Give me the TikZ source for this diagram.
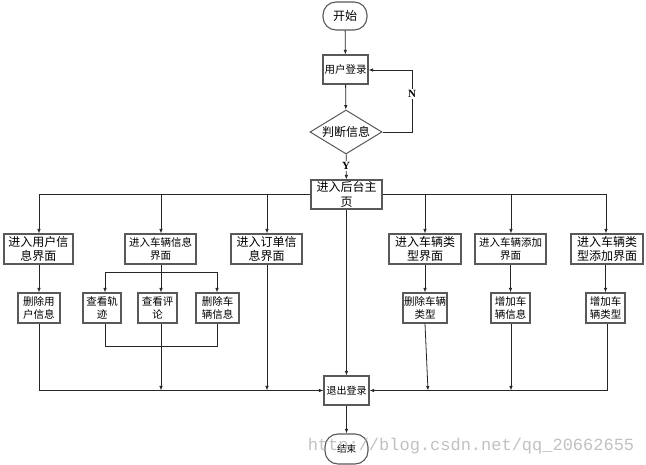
\documentclass[tikz,border=0pt]{standalone}
\usepackage{fontspec}
\setmainfont{Noto Sans CJK SC}
\newfontfamily\wmfont{Liberation Mono}
\newfontfamily\lblfont{Liberation Serif}
\usetikzlibrary{arrows.meta,shapes.geometric}
\begin{document}
\begin{tikzpicture}[x=1pt,y=-1pt,
  line/.style={draw=black!85,line width=0.8pt},
  arr/.style={line,-{Latex[length=4.5pt,width=3.5pt]}},
  box/.style={draw=black!65,line width=1.1pt,rectangle,inner sep=0pt,align=center,fill=white},
  big/.style={font=\fontsize{12}{14.5}\selectfont},
  small/.style={font=\fontsize{10.5}{13.5}\selectfont},
  term/.style={box,rounded corners=13pt},
  lbl/.style={fill=white,inner sep=1pt,font=\lblfont\fontsize{11}{12}\selectfont\bfseries}
]
\useasboundingbox (0,0) rectangle (646,465);
\fill[white] (0,0) rectangle (646,465);

% top part
\node[term,big,minimum width=44pt,minimum height=28pt] (start) at (345,16) {开始};
\node[box,small,minimum width=45pt,minimum height=29pt] (login) at (345.5,69.5) {用户登录};
\node[draw=black!65,line width=1pt,diamond,inner sep=0pt,aspect=1.64,minimum width=72pt,minimum height=44pt,big,fill=white] (judge) at (346,132) {判断信息};
\node[box,big,minimum width=71pt,minimum height=29pt] (main) at (346.5,194.5) {进入后台主\\页};

\draw[arr] (start) -- (login);
\draw[arr] (login) -- (judge);
\coordinate (n1) at (412,132);
\coordinate (n2) at (412,70);
\draw[arr] (judge.east) -- (n1) -- (n2) -- (n2 -| login.east);
\node[lbl] (nlab) at (412,94) {N};
\draw[arr] (judge) -- (main);
\node[lbl] (ylab) at (346,166) {Y};

% level 1
\node[box,big,minimum width=69pt,minimum height=30pt] (u1) at (38.5,249) {进入用户信\\息界面};
\node[box,small,minimum width=71pt,minimum height=30pt] (u2) at (160.5,249) {进入车辆信息\\界面};
\node[box,big,minimum width=71pt,minimum height=30pt] (u3) at (266.5,249) {进入订单信\\息界面};
\node[box,big,minimum width=72pt,minimum height=30pt] (u4) at (425,249) {进入车辆类\\型界面};
\node[box,small,minimum width=71pt,minimum height=30pt] (u5) at (510.5,249) {进入车辆添加\\界面};
\node[box,big,minimum width=72pt,minimum height=30pt] (u6) at (607,249) {进入车辆类\\型添加界面};

% bus
\coordinate (b1) at (39,194.5);
\coordinate (b2) at (161,194.5);
\coordinate (b3) at (267,194.5);
\coordinate (b4) at (425,194.5);
\coordinate (b5) at (511,194.5);
\coordinate (b6) at (606,194.5);
\draw[line] (main.west) -- (b1);
\draw[line] (main.east) -- (b6);
\draw[arr] (b1) -- (b1 |- u1.north);
\draw[arr] (b2) -- (b2 |- u2.north);
\draw[arr] (b3) -- (b3 |- u3.north);
\draw[arr] (b4) -- (b4 |- u4.north);
\draw[arr] (b5) -- (b5 |- u5.north);
\draw[arr] (b6) -- (b6 |- u6.north);

% level 2
\node[box,small,minimum width=42pt,minimum height=30pt] (d1) at (39,308) {删除用\\户信息};
\node[box,small,minimum width=38pt,minimum height=30pt] (v1) at (102,308) {查看轨\\迹};
\node[box,small,minimum width=39pt,minimum height=30pt] (v2) at (157.5,308) {查看评\\论};
\node[box,small,minimum width=43pt,minimum height=30pt] (v3) at (217.5,308) {删除车\\辆信息};
\node[box,small,minimum width=44pt,minimum height=30pt] (d4) at (425,308) {删除车辆\\类型};
\node[box,small,minimum width=39pt,minimum height=30pt] (d5) at (510.5,308) {增加车\\辆信息};
\node[box,small,minimum width=39pt,minimum height=30pt] (d6) at (605.5,308) {增加车\\辆类型};

\draw[arr] (u1.south -| d1) -- (d1);
\draw[arr] (u4.south -| d4) -- (d4);
\draw[arr] (u5.south -| d5) -- (d5);
\draw[arr] (u6.south -| d6) -- (d6);

% vehicle info sub-bus
\coordinate (s1) at (105,272);
\coordinate (s2) at (161,272);
\coordinate (s3) at (217,272);
\draw[line] (u2.south -| s2) -- (s2);
\draw[line] (s1) -- (s3);
\draw[arr] (s1) -- (s1 |- v1.north);
\draw[arr] (s2) -- (s2 |- v2.north);
\draw[arr] (s3) -- (s3 |- v3.north);
\coordinate (m1) at (105,346);
\coordinate (m3) at (217,346);
\draw[line] (v1.south -| m1) -- (m1) -- (m3) -- (v3.south -| m3);

% exit and end
\node[box,small,minimum width=45pt,minimum height=29pt,font=\fontsize{10}{12}\selectfont] (exit) at (346.5,390.5) {退出登录};
\node[term,minimum width=43pt,minimum height=30pt,font=\fontsize{9.5}{12}\selectfont] (end) at (346.5,449) {结束};

\coordinate (e1) at (39,390.5);
\coordinate (e6) at (607,390.5);
\draw[arr] (d1.south) -- (e1) -- (exit.west);
\draw[arr] (d6.south -| e6) -- (e6) -- (exit.east);
\draw[arr] (v2.south -| s2) -- (s2 |- exit.west);
\draw[arr] (u3.south -| b3) -- (b3 |- exit.west);
\draw[arr] (d4.south) -- (428,390.5);
\draw[arr] (d5.south -| b5) -- (b5 |- exit.west);
\draw[arr] (main) -- (exit);
\draw[arr] (exit) -- (end);

% watermark
\node[text=black!30,opacity=0.8,font=\wmfont\fontsize{17}{18}\selectfont,inner sep=0pt] (wm) at (471,446) {http://blog.csdn.net/qq\_20662655};
\end{tikzpicture}
\end{document}
